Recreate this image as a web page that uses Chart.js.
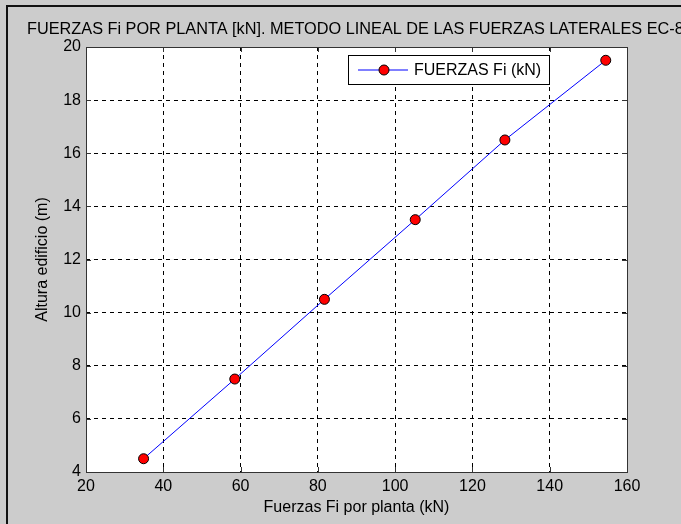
<!DOCTYPE html>
<html>
<head>
<meta charset="utf-8">
<title>Fuerzas Fi por planta</title>
<script src="https://cdn.jsdelivr.net/npm/chart.js@4/dist/chart.umd.min.js"></script>
<style>
  html, body { margin: 0; padding: 0; background: #cccccc; }
  #chart { display: block; }
</style>
</head>
<body>
<canvas id="chart" width="681" height="524"></canvas>
<script>
(function () {
  'use strict';

  // values
  var fuerzas = [34.9, 58.5, 81.7, 105.2, 128.4, 154.5];
  var alturas = [4.5, 7.5, 10.5, 13.5, 16.5, 19.5];
  var xTicks = [20, 40, 60, 80, 100, 120, 140, 160];
  var yTicks = [4, 6, 8, 10, 12, 14, 16, 18, 20];

  var titleText = 'FUERZAS Fi POR PLANTA [kN]. METODO LINEAL DE LAS FUERZAS LATERALES EC-8';
  var seriesLabel = 'FUERZAS Fi (kN)';
  var xLabel = 'Fuerzas Fi por planta (kN)';
  var yLabel = 'Altura edificio (m)';

  var FONT = '"Liberation Sans", Arial, Helvetica, sans-serif';
  var figBg = '#cccccc';
  var boxColor = '#333333';
  var lineColor = '#0000ff';
  var markerFill = '#ff0000';

  var points = fuerzas.map(function (f, i) { return { x: f, y: alturas[i] }; });

  // MATLAB-like frame: grey figure, white axes, inner ticks, title, legend
  var matlabFrame = {
    id: 'matlabFrame',
    beforeDraw: function (chart) {
      var ctx = chart.ctx;
      var a = chart.chartArea;
      ctx.save();
      ctx.fillStyle = figBg;
      ctx.fillRect(0, 0, chart.width, chart.height);
      ctx.fillStyle = '#111111';
      ctx.fillRect(6, 5, chart.width - 6, 2);
      ctx.fillRect(6, 5, 2, chart.height - 5);
      ctx.fillStyle = '#ffffff';
      ctx.fillRect(a.left, a.top, a.right - a.left, a.bottom - a.top);
      ctx.fillStyle = '#000000';
      ctx.font = '16.3px ' + FONT;
      ctx.textAlign = 'left';
      ctx.textBaseline = 'alphabetic';
      ctx.fillText(titleText, 27, 34);
      ctx.restore();
    },
    beforeDatasetsDraw: function (chart) {
      var ctx = chart.ctx;
      var a = chart.chartArea;
      var xs = chart.scales.x;
      var ys = chart.scales.y;
      var len = 5;
      ctx.save();
      ctx.strokeStyle = boxColor;
      ctx.lineWidth = 1;
      ctx.setLineDash([]);
      ctx.beginPath();
      xTicks.forEach(function (v) {
        var px = Math.round(xs.getPixelForValue(v)) + 0.5;
        ctx.moveTo(px, a.bottom); ctx.lineTo(px, a.bottom - len);
        ctx.moveTo(px, a.top); ctx.lineTo(px, a.top + len);
      });
      yTicks.forEach(function (v) {
        var py = Math.round(ys.getPixelForValue(v)) + 0.5;
        ctx.moveTo(a.left, py); ctx.lineTo(a.left + len, py);
        ctx.moveTo(a.right, py); ctx.lineTo(a.right - len, py);
      });
      ctx.stroke();
      ctx.strokeRect(Math.round(a.left) + 0.5, Math.round(a.top) + 0.5,
        Math.round(a.right - a.left), Math.round(a.bottom - a.top));
      ctx.restore();
    },
    afterDraw: function (chart) {
      var ctx = chart.ctx;
      var ds = chart.data.datasets[0];
      var bx = 348.5, by = 55.5, bw = 201, bh = 29;
      var cy = by + bh / 2;
      ctx.save();
      ctx.fillStyle = '#ffffff';
      ctx.fillRect(bx, by, bw, bh);
      ctx.strokeStyle = '#000000';
      ctx.lineWidth = 1;
      ctx.strokeRect(bx, by, bw, bh);
      ctx.strokeStyle = ds.borderColor;
      ctx.beginPath();
      ctx.moveTo(358, cy);
      ctx.lineTo(408, cy);
      ctx.stroke();
      ctx.beginPath();
      ctx.arc(384, cy, ds.pointRadius, 0, Math.PI * 2);
      ctx.fillStyle = ds.pointBackgroundColor;
      ctx.fill();
      ctx.strokeStyle = ds.pointBorderColor;
      ctx.stroke();
      ctx.fillStyle = '#000000';
      ctx.font = '16px ' + FONT;
      ctx.textAlign = 'left';
      ctx.textBaseline = 'middle';
      ctx.fillText(ds.label, 414, cy + 1);
      ctx.restore();
    }
  };

  var tickFont = { family: FONT, size: 16 };

  new Chart(document.getElementById('chart'), {
    type: 'line',
    data: {
      datasets: [{
        label: seriesLabel,
        data: points,
        borderColor: lineColor,
        borderWidth: 1,
        pointRadius: 5,
        pointHoverRadius: 5,
        pointBackgroundColor: markerFill,
        pointBorderColor: '#000000',
        pointBorderWidth: 1,
        fill: false,
        tension: 0
      }]
    },
    options: {
      responsive: false,
      animation: false,
      devicePixelRatio: 1,
      layout: { padding: { left: 0, top: 47, right: 54, bottom: 0 } },
      plugins: {
        legend: { display: false },
        title: { display: false },
        tooltip: { enabled: false }
      },
      scales: {
        x: {
          type: 'linear',
          min: 20,
          max: 160,
          afterFit: function (scale) { scale.height = 52; },
          afterBuildTicks: function (scale) {
            scale.ticks = xTicks.map(function (v) { return { value: v }; });
          },
          grid: { color: '#000000', lineWidth: 1, drawTicks: false },
          border: { display: false, dash: [4, 4] },
          ticks: { color: '#000000', font: tickFont, padding: 5, maxRotation: 0 },
          title: {
            display: true,
            text: xLabel,
            color: '#000000',
            font: tickFont,
            padding: { top: 0, bottom: 7 }
          }
        },
        y: {
          type: 'linear',
          min: 4,
          max: 20,
          afterFit: function (scale) { scale.width = 86; },
          afterBuildTicks: function (scale) {
            scale.ticks = yTicks.map(function (v) { return { value: v }; });
          },
          grid: { color: '#000000', lineWidth: 1, drawTicks: false },
          border: { display: false, dash: [4, 4] },
          ticks: { color: '#000000', font: tickFont, padding: 5 },
          title: {
            display: true,
            text: yLabel,
            color: '#000000',
            font: tickFont,
            padding: { top: 33, bottom: 0 }
          }
        }
      }
    },
    plugins: [matlabFrame]
  });
})();
</script>
</body>
</html>
